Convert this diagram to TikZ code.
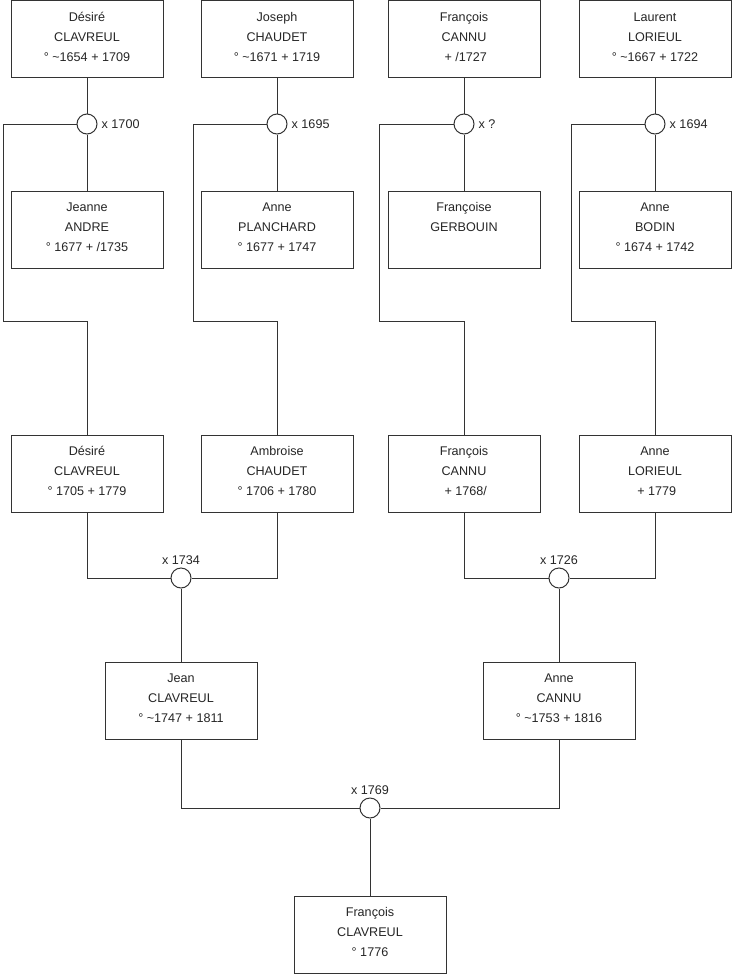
\documentclass[tikz,border=0pt]{standalone}
\usepackage{fontspec}
\setmainfont{Liberation Sans}
\begin{document}
\begin{tikzpicture}[x=1pt,y=-1pt,
  box/.style={draw=black!80, line width=1pt, minimum width=152pt, minimum height=77pt, inner sep=0pt, fill=white},
  txt/.style={anchor=north, inner sep=0pt, align=center, font=\fontsize{12.6}{20}\selectfont, text=black!85},
  knot/.style={circle, draw=black!80, line width=1pt, minimum size=20pt, inner sep=0pt, fill=white},
  wire/.style={draw=black!80, line width=1pt},
  lbl/.style={inner sep=0pt, font=\fontsize{12.6}{15}\selectfont, text=black!85}]
\newcommand\person[4]{%
  \node[box] (#1) at (#2,#3+38.5) {};
  \node[txt] (#1t) at (#2,#3+8.5) {\rule{0pt}{12pt}#4};}
\fill[white] (0,0) rectangle (740,975);
\useasboundingbox (0,0) rectangle (740,975);
% row 1
\person{d1}{87}{0.5}{Désiré\\CLAVREUL\\° \textasciitilde1654 + 1709}
\person{j1}{277}{0.5}{Joseph\\CHAUDET\\° \textasciitilde1671 + 1719}
\person{f1}{464}{0.5}{François\\CANNU\\\hspace*{3.5pt}+ /1727}
\person{l1}{655}{0.5}{Laurent\\LORIEUL\\° \textasciitilde1667 + 1722}
% row 2
\person{d2}{87}{191}{Jeanne\\ANDRE\\° 1677 + /1735}
\person{j2}{277}{191}{Anne\\PLANCHARD\\° 1677 + 1747}
\person{f2}{464}{191}{Françoise\\GERBOUIN}
\person{l2}{655}{191}{Anne\\BODIN\\° 1674 + 1742}
% row 3
\person{d3}{87}{435}{Désiré\\CLAVREUL\\° 1705 + 1779}
\person{j3}{277}{435}{Ambroise\\CHAUDET\\° 1706 + 1780}
\person{f3}{464}{435}{François\\CANNU\\\hspace*{3.5pt}+ 1768/}
\person{l3}{655}{435}{Anne\\LORIEUL\\\hspace*{3.5pt}+ 1779}
% row 4
\person{jc}{181}{662}{Jean\\CLAVREUL\\° \textasciitilde1747 + 1811}
\person{ac}{559}{662}{Anne\\CANNU\\° \textasciitilde1753 + 1816}
% row 5
\person{fc}{370}{896}{François\\CLAVREUL\\° 1776}
% marriage knots
\node[knot] (m1) at (87,124) {};
\node[knot] (m2) at (277,124) {};
\node[knot] (m3) at (464,124) {};
\node[knot] (m4) at (655,124) {};
\node[knot] (m5) at (181,578) {};
\node[knot] (m6) at (559,578) {};
\node[knot] (m7) at (370,808) {};
\node[lbl, anchor=west] (x1) at ([xshift=4pt]m1.east) {x 1700};
\node[lbl, anchor=west] (x2) at ([xshift=4pt]m2.east) {x 1695};
\node[lbl, anchor=west] (x3) at ([xshift=4pt]m3.east) {x ?};
\node[lbl, anchor=west] (x4) at ([xshift=4pt]m4.east) {x 1694};
\node[lbl, anchor=south] (x5) at ([yshift=3pt]m5.north) {x 1734};
\node[lbl, anchor=south] (x6) at ([yshift=3pt]m6.north) {x 1726};
\node[lbl, anchor=south] (x7) at ([yshift=3pt]m7.north) {x 1769};
% bends
\coordinate (k1) at (3,321);
\coordinate (k2) at (193,321);
\coordinate (k3) at (379,321);
\coordinate (k4) at (571,321);
% connectors top
\foreach \a/\m/\b/\k/\c in {d1/m1/d2/k1/d3, j1/m2/j2/k2/j3, f1/m3/f2/k3/f3, l1/m4/l2/k4/l3}{
  \draw[wire] (\a.south) -- (\m.north);
  \draw[wire] (\m.south) -- (\b.north);
  \draw[wire] (\m.west) -| (\k) -| (\c.north);
}
% couples
\draw[wire] (d3.south) |- (m5.west);
\draw[wire] (j3.south) |- (m5.east);
\draw[wire] (m5.south) -- (jc.north);
\draw[wire] (f3.south) |- (m6.west);
\draw[wire] (l3.south) |- (m6.east);
\draw[wire] (m6.south) -- (ac.north);
\draw[wire] (jc.south) |- (m7.west);
\draw[wire] (ac.south) |- (m7.east);
\draw[wire] (m7.south) -- (fc.north);
\end{tikzpicture}
\end{document}
